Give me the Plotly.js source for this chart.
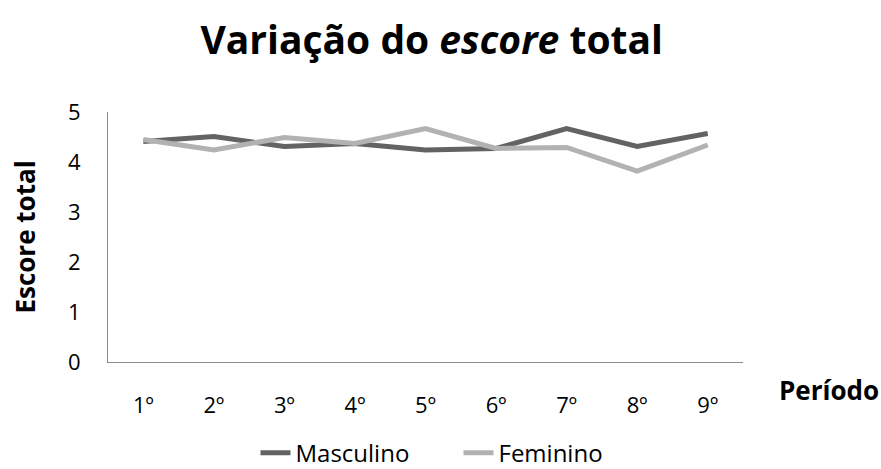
<!DOCTYPE html>
<html><head><meta charset="utf-8">
<script src="https://cdn.plot.ly/plotly-3.0.1.min.js"></script>
<style>body{margin:0;background:#fff}#chart{width:881px;height:469px}</style>
</head><body><div id="chart"></div>
<script>
const periodos = ["1º","2º","3º","4º","5º","6º","7º","8º","9º"];
const masculino = [4.41, 4.51, 4.31, 4.37, 4.24, 4.27, 4.67, 4.31, 4.57];
const feminino  = [4.45, 4.24, 4.49, 4.37, 4.67, 4.27, 4.29, 3.82, 4.34];
const yTicks = [0,1,2,3,4,5];

const FONT = "Open Sans, Noto Sans, sans-serif";
const traces = [
  {x: periodos, y: masculino, name: "Masculino", type: "scatter", mode: "lines",
   line: {color: "#636363", width: 5}},
  {x: periodos, y: feminino, name: "Feminino", type: "scatter", mode: "lines",
   line: {color: "#b2b2b2", width: 5}}
];
const layout = {
  width: 881, height: 469,
  margin: {l: 108, r: 138, t: 112, b: 107, autoexpand: false},
  paper_bgcolor: "#fff", plot_bgcolor: "#fff",
  font: {family: FONT, color: "#000", size: 22},
  title: {text: "<b>Variação do <i>escore</i> total</b>", x: 0.49, xanchor: "center",
          y: 0.915, yanchor: "middle", font: {size: 39, family: FONT, color: "#000"}},
  xaxis: {type: "category", range: [-0.5, 8.5], showgrid: false, zeroline: false,
          showline: true, linecolor: "#8c8c8c", linewidth: 1,
          ticks: "outside", ticklen: 24, tickcolor: "rgba(0,0,0,0)",
          tickfont: {size: 22, family: FONT}},
  yaxis: {range: [0, 5], tickvals: yTicks, showgrid: false, zeroline: false,
          showline: true, linecolor: "#8c8c8c", linewidth: 1,
          ticks: "outside", ticklen: 22, tickcolor: "rgba(0,0,0,0)",
          tickfont: {size: 22, family: FONT},
          title: {text: "<b>Escore total</b>", standoff: 24, font: {size: 26, family: FONT}}},
  legend: {orientation: "h", x: 0.29, xref: "container", xanchor: "left",
           y: 0.034, yref: "container", yanchor: "middle",
           font: {size: 24, family: FONT}, itemwidth: 30,
           entrywidth: 158, entrywidthmode: "pixels"},
  annotations: [{text: "<b>Período</b>", xref: "paper", yref: "paper", x: 1.135, y: -0.11,
                 xanchor: "center", yanchor: "middle", showarrow: false,
                 font: {size: 26, family: FONT}}],
  showlegend: true
};
Plotly.newPlot("chart", traces, layout, {displayModeBar: false});
</script></body></html>
